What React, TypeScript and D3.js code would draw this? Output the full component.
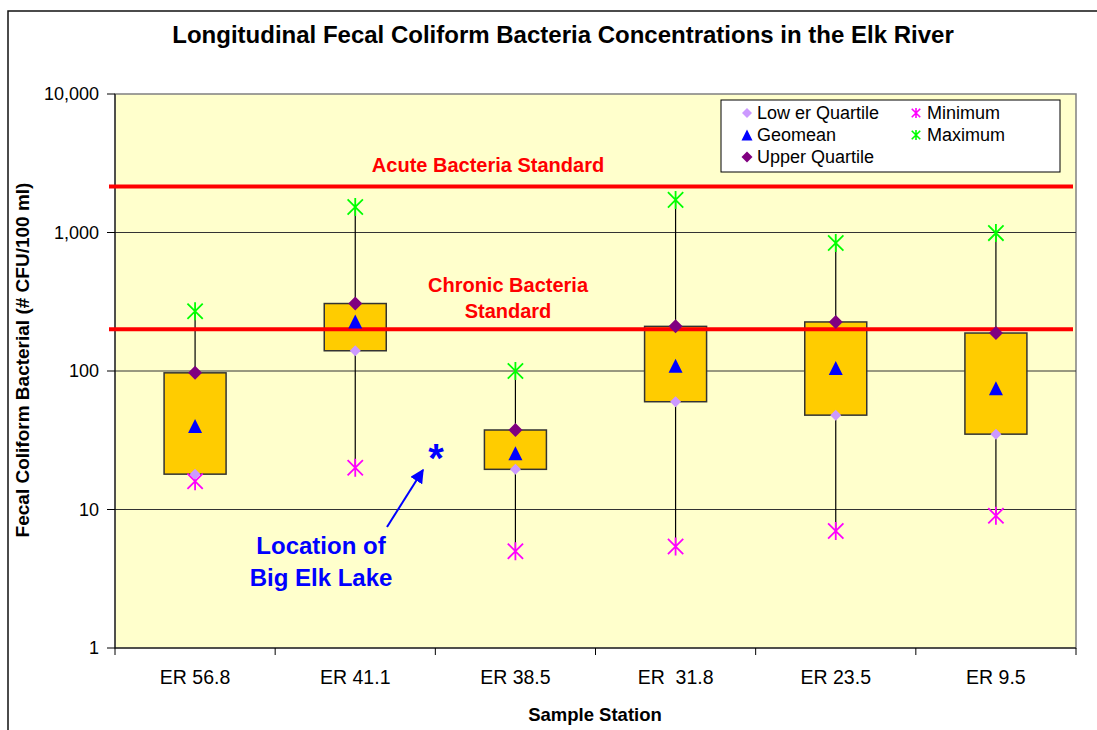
import React from "react";
import * as d3 from "d3";

const stations = ["ER 56.8", "ER 41.1", "ER 38.5", "ER  31.8", "ER 23.5", "ER 9.5"];
const minimum = [16, 20, 5, 5.4, 7, 9];
const lowerQuartile = [18, 140, 19.5, 60, 48, 35];
const geomean = [40, 228, 25.5, 109, 105, 75];
const upperQuartile = [97, 307, 37.5, 210, 226, 188];
const maximum = [270, 1530, 100, 1720, 840, 990];
const yTicks = [1, 10, 100, 1000, 10000];
const acuteStandard = 2150;
const chronicStandard = 200;

const W = 1097;
const H = 730;
const L = 115, R = 1076, T = 94, B = 648;
const FONT = "Arial, 'Liberation Sans', sans-serif";

function asteriskPath(r: number) {
  const d = r * 0.85;
  return `M0,${-r}L0,${r}M${-d},${-d}L${d},${d}M${-d},${d}L${d},${-d}`;
}
function diamondPath(r: number) {
  return `M0,${-r}L${r},0L0,${r}L${-r},0Z`;
}
function trianglePath(w: number) {
  const h = w;
  return `M0,${-h / 2}L${w / 2},${h / 2}L${-w / 2},${h / 2}Z`;
}

export default function App() {
  const x = d3.scaleBand<string>().domain(stations).range([L, R]).padding(0);
  const y = d3.scaleLog().domain([1, 10000]).range([B, T]);
  const fmt = d3.format(",");
  const bw = 62;
  const cx = (i: number) => (x(stations[i]) as number) + x.bandwidth() / 2;
  const boundaries = [...stations.map((s) => x(s) as number), R];

  return (
    <svg
      width={W}
      height={H}
      style={{ position: "absolute", left: 0, top: 0, display: "block", background: "#fff" }}
      fontFamily={FONT}
    >
      <defs>
        <marker id="arr" viewBox="0 0 10 10" refX="9" refY="5" markerWidth="7" markerHeight="7" orient="auto">
          <path d="M0,0L10,5L0,10Z" fill="#0000FF" />
        </marker>
      </defs>
      {/* chart border */}
      <rect x={8} y={11} width={W + 20} height={H + 20} fill="#fff" stroke="#111" strokeWidth={1.5} />
      {/* title */}
      <text x={563} y={43} textAnchor="middle" fontSize={24} fontWeight="bold" fill="#000">
        Longitudinal Fecal Coliform Bacteria Concentrations in the Elk River
      </text>
      {/* plot area */}
      <rect x={L} y={T} width={R - L} height={B - T} fill="#FFFFCC" stroke="#808080" strokeWidth={1.5} />
      {/* gridlines */}
      {yTicks.slice(1, -1).map((t) => (
        <line key={t} x1={L} x2={R} y1={y(t)} y2={y(t)} stroke="#333" strokeWidth={1} />
      ))}
      {/* axes */}
      <line x1={L} x2={L} y1={T} y2={B} stroke="#000" strokeWidth={1} />
      <line x1={L} x2={R} y1={B} y2={B} stroke="#000" strokeWidth={1.2} />
      {yTicks.map((t) => (
        <g key={t}>
          <line x1={L - 8} x2={L} y1={y(t)} y2={y(t)} stroke="#000" strokeWidth={1} />
          <text x={99} y={y(t) + 6} textAnchor="end" fontSize={18} fill="#000">
            {fmt(t)}
          </text>
        </g>
      ))}
      {boundaries.map((b, i) => (
        <line key={i} x1={b} x2={b} y1={B} y2={B + 7} stroke="#000" strokeWidth={1} />
      ))}
      {stations.map((s, i) => (
        <text key={s} x={cx(i)} y={684} textAnchor="middle" fontSize={19.5} fill="#000" style={{ whiteSpace: "pre" }}>
          {s}
        </text>
      ))}
      <text x={595} y={721} textAnchor="middle" fontSize={18.5} fontWeight="bold" fill="#000">
        Sample Station
      </text>
      <text
        transform={`translate(29,360) rotate(-90)`}
        textAnchor="middle"
        fontSize={19}
        fontWeight="bold"
        fill="#000"
      >
        Fecal Coliform Bacterial (# CFU/100 ml)
      </text>

      {/* whiskers */}
      {stations.map((s, i) => (
        <line key={"w" + i} x1={cx(i)} x2={cx(i)} y1={y(minimum[i])} y2={y(maximum[i])} stroke="#000" strokeWidth={1.2} />
      ))}
      {/* boxes */}
      {stations.map((s, i) => (
        <rect
          key={"b" + i}
          x={cx(i) - bw / 2}
          y={y(upperQuartile[i])}
          width={bw}
          height={y(lowerQuartile[i]) - y(upperQuartile[i])}
          fill="#FFCC00"
          stroke="#333"
          strokeWidth={1.5}
        />
      ))}
      {/* standards */}
      <line x1={109} x2={1073} y1={y(acuteStandard)} y2={y(acuteStandard)} stroke="#FF0000" strokeWidth={4} />
      <line x1={109} x2={1073} y1={y(chronicStandard)} y2={y(chronicStandard)} stroke="#FF0000" strokeWidth={4} />
      <text x={488} y={172} textAnchor="middle" fontSize={20} fontWeight="bold" fill="#FF0000">
        Acute Bacteria Standard
      </text>
      <text x={508} y={292} textAnchor="middle" fontSize={20} fontWeight="bold" fill="#FF0000">
        Chronic Bacteria
      </text>
      <text x={508} y={318} textAnchor="middle" fontSize={20} fontWeight="bold" fill="#FF0000">
        Standard
      </text>

      {/* markers */}
      {stations.map((s, i) => (
        <g key={"m" + i}>
          <path d={asteriskPath(9)} transform={`translate(${cx(i)},${y(maximum[i])})`} stroke="#00FF00" strokeWidth={1.8} fill="none" />
          <path d={asteriskPath(9)} transform={`translate(${cx(i)},${y(minimum[i])})`} stroke="#FF00FF" strokeWidth={1.8} fill="none" />
          <path d={diamondPath(5.5)} transform={`translate(${cx(i)},${y(lowerQuartile[i])})`} fill="#CC99FF" />
          <path d={diamondPath(7)} transform={`translate(${cx(i)},${y(upperQuartile[i])})`} fill="#800080" />
          <path d={trianglePath(14)} transform={`translate(${cx(i)},${y(geomean[i])})`} fill="#0000FF" />
        </g>
      ))}

      {/* legend */}
      <rect x={721} y={100} width={339} height={72} fill="#fff" stroke="#000" strokeWidth={1} />
      <g fontSize={18} fill="#000">
        <path d={diamondPath(5)} transform="translate(747,113)" fill="#CC99FF" />
        <text x={757} y={119}>Low er Quartile</text>
        <path d={trianglePath(11)} transform="translate(747,135)" fill="#0000FF" />
        <text x={757} y={141}>Geomean</text>
        <path d={diamondPath(5.5)} transform="translate(747,157)" fill="#800080" />
        <text x={757} y={163}>Upper Quartile</text>
        <path d={asteriskPath(5)} transform="translate(916,113)" stroke="#FF00FF" strokeWidth={1.6} fill="none" />
        <text x={927} y={119}>Minimum</text>
        <path d={asteriskPath(5)} transform="translate(916,135)" stroke="#00FF00" strokeWidth={1.6} fill="none" />
        <text x={927} y={141}>Maximum</text>
      </g>

      {/* annotation */}
      <text x={436} y={472} textAnchor="middle" fontSize={40} fontWeight="bold" fill="#0000FF">
        *
      </text>
      <line x1={387} y1={527} x2={423} y2={470} stroke="#0000FF" strokeWidth={2} markerEnd="url(#arr)" />
      <text x={321} y={554} textAnchor="middle" fontSize={24} fontWeight="bold" fill="#0000FF">
        Location of
      </text>
      <text x={321} y={586} textAnchor="middle" fontSize={24} fontWeight="bold" fill="#0000FF">
        Big Elk Lake
      </text>
    </svg>
  );
}
